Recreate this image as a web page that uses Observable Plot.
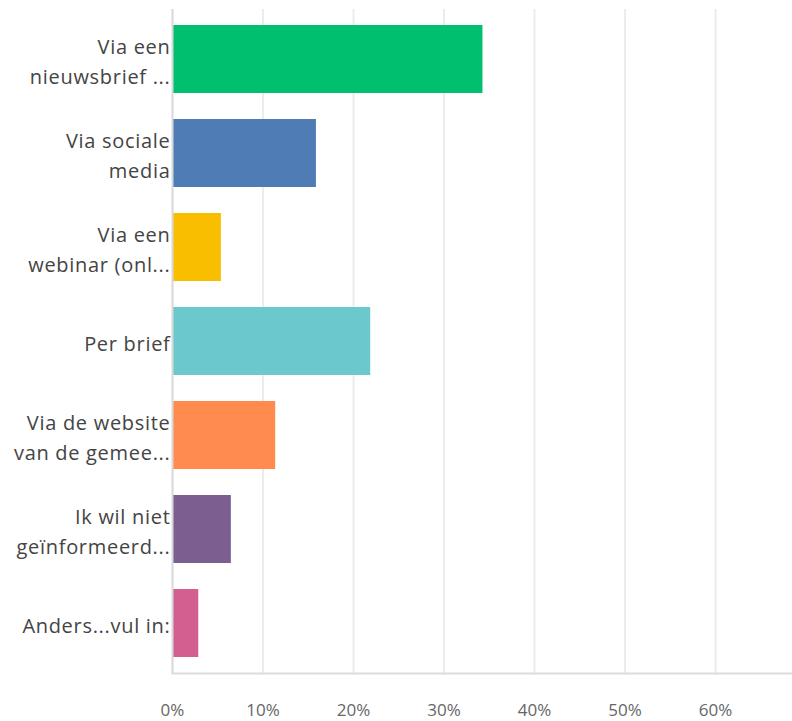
<!DOCTYPE html>
<html>
<head>
<meta charset="utf-8">
<script src="https://cdn.jsdelivr.net/npm/d3@7"></script>
<script src="https://cdn.jsdelivr.net/npm/@observablehq/plot@0.6"></script>
<style>
  html, body { margin: 0; padding: 0; background: #fff; }
  g[aria-label="y-axis tick label"] text { letter-spacing: 0.7px; }
</style>
</head>
<body>
<div id="chart"></div>
<script>
const categories = [
  "Via een\nnieuwsbrief ...",
  "Via sociale\nmedia",
  "Via een\nwebinar (onl...",
  "Per brief",
  "Via de website\nvan de gemee...",
  "Ik wil niet\ngeïnformeerd...",
  "Anders...vul in:"
];
const values = [0.343, 0.159, 0.054, 0.219, 0.114, 0.065, 0.029];
const colors = ["#00BF6F", "#507CB6", "#F9BE00", "#6BC8CD", "#FF8B4F", "#7D5E90", "#D25F90"];
const tickValues = [0, 0.1, 0.2, 0.3, 0.4, 0.5, 0.6];

const data = categories.map((c, i) => ({category: c, value: values[i], color: colors[i]}));

const chart = Plot.plot({
  width: 792,
  height: 721,
  marginTop: 9,
  marginBottom: 48,
  marginLeft: 172,
  marginRight: 0,
  style: {fontFamily: "'Open Sans', sans-serif", background: "#fff"},
  x: {domain: [0, 0.685], ticks: tickValues, label: null},
  y: {domain: categories, paddingInner: 0.28, paddingOuter: 0.14, label: null},
  color: {type: "identity"},
  marks: [
    Plot.gridX(tickValues.slice(1), {stroke: "#ececec", strokeOpacity: 1, strokeWidth: 2}),
    Plot.frame({anchor: "bottom", stroke: "#dcdcdc", strokeWidth: 2}),
    Plot.barX(data, {x: "value", y: "category", fill: "color"}),
    Plot.ruleX([0], {stroke: "#d8d8d8", strokeWidth: 2}),
    Plot.axisX({ticks: tickValues, tickFormat: d3.format(".0%"), tickSize: 0, tickPadding: 30, fontSize: 17, fill: "#666", label: null}),
    Plot.axisY({tickSize: 0, tickPadding: 2, fontSize: 20, lineHeight: 1.5, fill: "#444", tickFormat: d => d, label: null})
  ]
});
document.getElementById("chart").appendChild(chart);
</script>
</body>
</html>
